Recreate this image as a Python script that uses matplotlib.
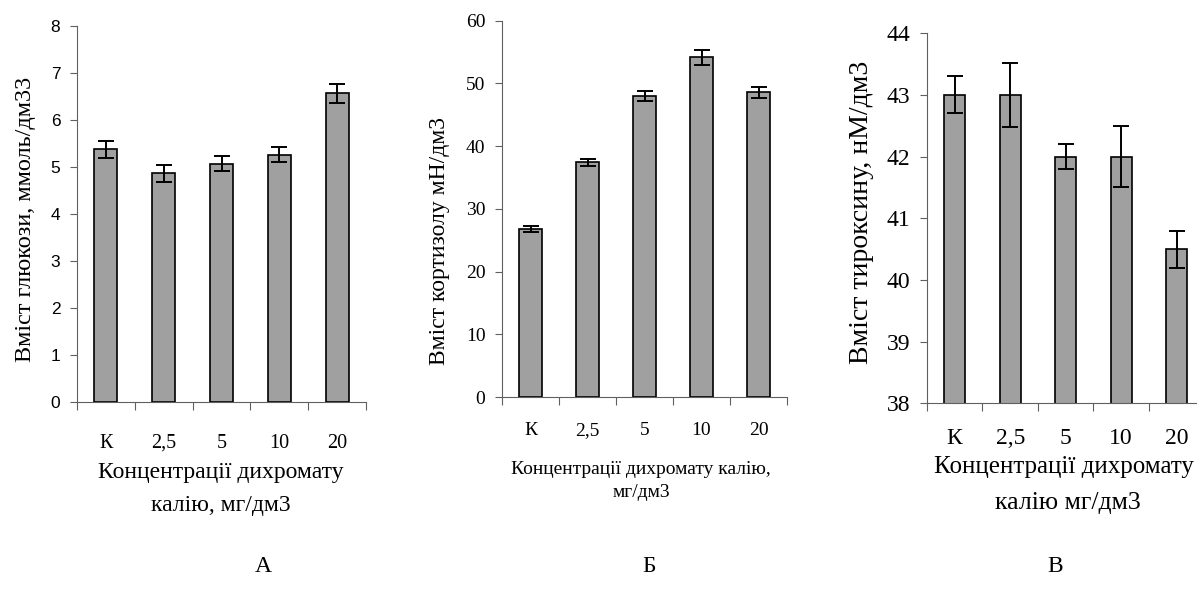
import matplotlib
matplotlib.use("Agg")
import matplotlib.pyplot as plt

# Дані
kategorii = ["К", "2,5", "5", "10", "20"]

glukoza = [5.38, 4.87, 5.07, 5.26, 6.57]
glukoza_err = [0.18, 0.18, 0.16, 0.16, 0.20]

kortyzol = [26.8, 37.4, 48.05, 54.2, 48.6]
kortyzol_err = [0.5, 0.5, 0.8, 1.2, 0.9]

tyroksyn = [43.0, 43.0, 42.0, 42.0, 40.5]
tyroksyn_err = [0.3, 0.52, 0.2, 0.5, 0.3]

SERIF = "Liberation Serif"
SANS = "Liberation Sans"
SIRYI = "#a0a0a0"
OS = "#606060"
W, H = 1197, 604


def px(x, y):
    # пікселі -> частки фігури
    return x / W, 1 - y / H


def panel(fig, rect, znach, pohybky, ylim, yticks, tick_font, ytick_size,
          xtick_size, xpad, bar_w):
    ax = fig.add_axes(rect)
    x = list(range(len(kategorii)))
    ax.bar(x, znach, width=bar_w, color=SIRYI, edgecolor="black", linewidth=1.2,
           yerr=pohybky, error_kw=dict(ecolor="black", elinewidth=1.4, capsize=5.5, capthick=1.4))
    ax.set_xlim(-0.5, len(kategorii) - 0.5)
    ax.set_ylim(*ylim)
    ax.set_yticks(yticks)
    ax.set_yticklabels([str(t) for t in yticks], fontfamily=tick_font, fontsize=ytick_size)
    # риски між категоріями, підписи по центру
    ax.set_xticks([i - 0.5 for i in range(len(kategorii) + 1)])
    ax.set_xticklabels([])
    ax.set_xticks(x, minor=True)
    ax.set_xticklabels(kategorii, minor=True, fontfamily=SERIF, fontsize=xtick_size)
    ax.tick_params(axis="x", which="major", length=6, direction="out", color=OS)
    ax.tick_params(axis="x", which="minor", length=0, pad=xpad)
    ax.tick_params(axis="y", length=5, direction="out", color=OS, pad=7)
    for s in ["top", "right"]:
        ax.spines[s].set_visible(False)
    for s in ["left", "bottom"]:
        ax.spines[s].set_color(OS)
    return ax


fig = plt.figure(figsize=(11.97, 6.04), dpi=100)

# А - глюкоза
panel(fig, [0.0643, 0.3344, 0.2415, 0.6225], glukoza, glukoza_err, (0, 8),
      list(range(0, 9)), SANS, 12.5, 14.5, 23, 0.4)
fig.text(*px(26, 219), "Вміст глюкози, ммоль/дм33", rotation=90, ha="center", va="center",
         fontfamily=SERIF, fontsize=17.5)
fig.text(*px(221, 489), "Концентрації дихромату\nкалію, мг/дм3",
         ha="center", va="center", fontfamily=SERIF, fontsize=17, linespacing=1.7)

# Б - кортизол
panel(fig, [0.4194, 0.3427, 0.2381, 0.623], kortyzol, kortyzol_err, (0, 60),
      list(range(0, 61, 10)), SERIF, 14, 14, 18, 0.4)
fig.text(*px(439, 241), "Вміст кортизолу мН/дм3", rotation=90, ha="center", va="center",
         fontfamily=SERIF, fontsize=17)
fig.text(*px(641, 481), "Концентрації дихромату калію,\nмг/дм3",
         ha="center", va="center", fontfamily=SERIF, fontsize=14, linespacing=1.45)

# В - тироксин
panel(fig, [0.7744, 0.332, 0.2318, 0.613], tyroksyn, tyroksyn_err, (38, 44),
      list(range(38, 45)), SERIF, 17, 17, 18, 0.38)
fig.text(*px(862, 212), "Вміст тироксину, нМ/дм3", rotation=90, ha="center", va="center",
         fontfamily=SERIF, fontsize=20)
fig.text(*px(1194, 467), "Концентрації дихромату", ha="right", va="center",
         fontfamily=SERIF, fontsize=18)
fig.text(*px(1068, 503), "калію мг/дм3", ha="center", va="center",
         fontfamily=SERIF, fontsize=18.5)

# Літери панелей
for lit, xp in [("А", 263), ("Б", 649), ("В", 1055)]:
    fig.text(*px(xp, 567), lit, ha="center", va="center",
             fontfamily=SERIF, fontsize=17)

fig.savefig("out.png", dpi=100)
